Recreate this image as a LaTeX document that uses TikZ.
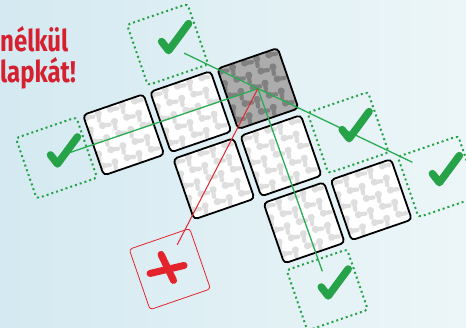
\documentclass[tikz,border=0pt]{standalone}
\usepackage{fontspec}
\newfontfamily\headfont[FakeStretch=0.8]{Fira Sans}
\usepackage{tikz}
\usetikzlibrary{calc}
\definecolor{bgTop}{RGB}{212,233,241}
\definecolor{bgLow}{RGB}{236,246,248}
\definecolor{okGreen}{RGB}{38,162,72}
\definecolor{lineGreen}{RGB}{40,172,84}
\definecolor{noRed}{RGB}{228,36,44}
\definecolor{txtRed}{RGB}{214,32,48}
\definecolor{blobLight}{RGB}{222,222,222}
\definecolor{tileGray}{RGB}{172,172,172}
\definecolor{blobDark}{RGB}{128,128,128}
\tikzset{
  tile/.style={draw=black,line width=1.8pt,rounded corners=4pt},
  slot/.style={draw=okGreen,line width=2pt,dash pattern=on 2pt off 3pt,
               rounded corners=3pt},
  badslot/.style={draw=noRed,line width=0.8pt,rounded corners=3pt},
  link/.style={lineGreen,line width=1.3pt},
  badlink/.style={noRed,line width=1pt},
  tick/.style={okGreen,line width=7.5pt,line cap=round,line join=round},
  cross/.style={noRed,line width=7pt,line cap=round},
  blob/.style={line width=4.2pt,line cap=round},
  word/.style={font=\headfont\bfseries\fontsize{30}{30}\selectfont,text=txtRed,
               anchor=base west,inner sep=0pt},
}
% one puzzle tile at grid cell (col,row)
\newcommand{\puzzletile}[4]{%
  \begin{scope}[shift={(#1,#2)}]
    \begin{scope}
      \clip[rounded corners=4pt] (0,0) rectangle (0.9,0.9);
      \fill[#3] (0,0) rectangle (0.9,0.9);
      \foreach \a in {0,...,5}
        \foreach \b in {0,...,5}
          {\pgfmathtruncatemacro\odd{mod(\a+\b,2)}
           \fill[#4] (0.18*\a+0.03,0.18*\b+0.05) circle (0.05);
           \ifnum\odd=0
             \draw[blob,#4] (0.18*\a+0.03,0.18*\b+0.05) -- ++(0.1,0.02);
           \else
             \draw[blob,#4] (0.18*\a+0.03,0.18*\b+0.05) -- ++(-0.02,0.1);
           \fi}
    \end{scope}
    \draw[tile] (0,0) rectangle (0.9,0.9);
  \end{scope}}
\newcommand{\tickat}[1]{%
  \draw[tick] ($(#1)+(-6,-3)$) -- ($(#1)+(1,6)$) -- ($(#1)+(21,-21)$);}
\newcommand{\crossat}[1]{%
  \draw[cross] ($(#1)+(-19.8,4.4)$) -- ($(#1)+(14.2,-3.6)$);
  \draw[cross] ($(#1)+(-8.8,-14.6)$) -- ($(#1)+(3.7,11.4)$);}

\begin{document}
\begin{tikzpicture}[x=1pt,y=-1pt]
  \useasboundingbox (0,0) rectangle (466,328);
  \clip (0,0) rectangle (466,328);
  \shade[left color=bgTop,right color=bgLow] (0,0) rectangle (466,328);

  \node[word] (wordA) at (0,52) {nélkül};
  \node[word] (wordB) at (0,83) {lapkát!};

  \begin{scope}[shift={(83,115)},x=71pt,y=-71pt,rotate=19]
    \puzzletile{0}{0}{white}{blobLight}
    \puzzletile{1}{0}{white}{blobLight}
    \puzzletile{2}{0}{tileGray}{blobDark}
    \puzzletile{1}{1}{white}{blobLight}
    \puzzletile{2}{1}{white}{blobLight}
    \puzzletile{2}{2}{white}{blobLight}
    \puzzletile{3}{2}{white}{blobLight}

    % free places
    \draw[slot] (1,-1) rectangle ++(0.9,0.9);
    \draw[slot] (-1,0) rectangle ++(0.9,0.9);
    \draw[slot] (3,1) rectangle ++(0.9,0.9);
    \draw[slot] (4,2) rectangle ++(0.9,0.9);
    \draw[slot] (2,3) rectangle ++(0.9,0.9);
    \draw[badslot] (0,2) rectangle ++(0.9,0.9);

    \coordinate (gray) at (2.45,0.45);
    \coordinate (up) at (1.45,-0.55);
    \coordinate (left) at (-0.55,0.45);
    \coordinate (mid) at (3.45,1.45);
    \coordinate (far) at (4.45,2.45);
    \coordinate (low) at (2.45,3.45);
    \coordinate (bad) at (0.45,2.45);

    \coordinate (upEnd) at (1.63,-0.36);
    \coordinate (farEnd) at (4.17,2.14);
    \coordinate (leftEnd) at (-0.34,0.44);
    \coordinate (lowEnd) at (2.47,3.18);
    \coordinate (badEnd) at (0.66,2.16);
  \end{scope}

  \draw[link] (gray) -- (upEnd);
  \draw[link] (gray) -- (farEnd);
  \draw[link] (gray) -- (leftEnd);
  \draw[link] (gray) -- (lowEnd);
  \draw[badlink] (gray) -- (badEnd);

  \tickat{up}
  \tickat{left}
  \tickat{mid}
  \tickat{far}
  \tickat{low}
  \crossat{bad}
\end{tikzpicture}
\end{document}
